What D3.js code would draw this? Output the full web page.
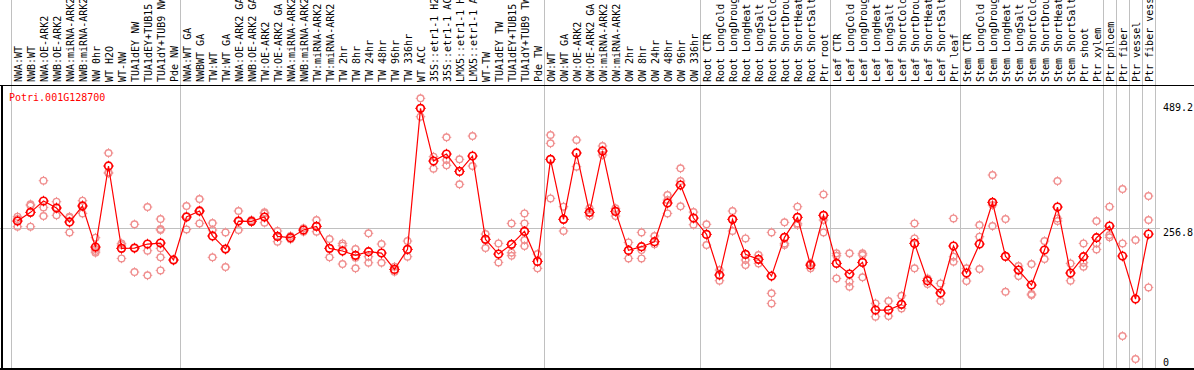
<!DOCTYPE html>
<html>
<head>
<meta charset="utf-8">
<script src="https://cdn.jsdelivr.net/npm/d3@7"></script>
<style>
  body { margin: 0; background: #fff; }
  text { font-family: "DejaVu Sans Mono", monospace; font-size: 10px; }
</style>
</head>
<body>
<div id="chart"></div>
<script>
// column labels, in drawing order
let categories = [
  "NWA:WT", "NWB:WT", "NWA:OE-ARK2", "NWB:OE-ARK2", "NWA:miRNA-ARK2", "NWB:miRNA-ARK2",
  "NW 0hr", "WT H2O", "WT-NW", "TUA1dEY NW", "TUA1dEY+TUB15", "TUA1dY+TUB9 NW", "Pde NW",
  "NWA:WT GA", "NWBWT GA", "TW:WT", "TW:WT GA", "NWA:OE-ARK2 GA", "NWB:OE-ARK2 GA",
  "TW:OE-ARK2", "TW:OE-ARK2 GA", "NWA:miRNA-ARK2", "NWB:miRNA-ARK2", "TW:miRNA-ARK2",
  "TW:miRNA-ARK2", "TW 2hr", "TW 8hr", "TW 24hr", "TW 48hr", "TW 96hr", "TW 336hr",
  "WT ACC", "35S::etr1-1 H2", "35S::etr1-1 AC", "LMX5::etr1-1 H", "LMX5::etr1-1 A",
  "WT-TW", "TUA1dEY TW", "TUA1dEY+TUB15", "TUA1dY+TUB9 TW", "Pde TW",
  "OW:WT", "OW:WT GA", "OW:OE-ARK2", "OW:OE-ARK2 GA", "OW:miRNA-ARK2", "OW:miRNA-ARK2",
  "OW 2hr", "OW 8hr", "OW 24hr", "OW 48hr", "OW 96hr", "OW 336hr",
  "Root CTR", "Root LongCold", "Root LongDroug", "Root LongHeat", "Root LongSalt",
  "Root ShortCold", "Root ShortDrou", "Root ShortHeat", "Root ShortSalt", "Ptr root",
  "Leaf CTR", "Leaf LongCold", "Leaf LongDroug", "Leaf LongHeat", "Leaf LongSalt",
  "Leaf ShortCold", "Leaf ShortDrou", "Leaf ShortHeat", "Leaf ShortSalt", "Ptr leaf",
  "Stem CTR", "Stem LongCold", "Stem LongDroug", "Stem LongHeat", "Stem LongSalt",
  "Stem ShortCold", "Stem ShortDrou", "Stem ShortHeat", "Stem ShortSalt", "Ptr shoot", "Ptr xylem",
  "Ptr phloem", "Ptr fiber", "Ptr vessel", "Ptr fiber vess"
];

// how many columns sit between two grey separators
let groupSizes = [13, 28, 12, 10, 10, 11, 1, 1, 1, 1];

// mean expression per column
let means = [
  269.6, 285.6, 306.5, 293.6, 267.8, 297.3, 221.6, 371.1, 219.2, 219.8, 227.2, 229.0, 197.7,
  277.0, 288.1, 242.0, 217.9, 269.6, 269.0, 277.0, 241.3, 238.9, 253.0, 259.8, 219.2, 214.3,
  206.3, 213.0, 210.6, 180.4, 217.3, 477.5, 380.3, 393.2, 361.2, 389.5, 235.8, 208.7, 226.6,
  250.5, 195.2,
  383.4, 272.7, 395.1, 285.6, 398.8, 287.4, 215.5, 222.3, 231.5, 302.8, 336.0, 275.1,
  245.0, 170.0, 272.7, 208.1, 198.9, 168.1, 239.5, 276.4, 188.4, 280.1,
  191.5, 171.8, 193.3, 105.4, 105.4, 115.9, 228.4, 159.5, 136.8, 223.5,
  173.7, 227.2, 304.1, 204.4, 179.2, 151.5, 216.1, 295.4, 173.7, 203.8, 238.9,
  260.4, 205.0, 125.7, 245.6
];

// single replicates per column
let replicates = [
  [277.6, 259.2, 273.3], [300.4, 297.9, 259.2], [344.0, 294.8, 278.8], [305.3, 280.1, 294.8],
  [277.6, 275.8, 248.7], [307.1, 283.7, 299.1], [238.9, 217.9, 211.2, 214.3], [395.1, 359.4, 357.6],
  [228.4, 200.7, 225.3], [263.5, 175.5, 219.8], [295.4, 214.9, 169.4],
  [273.3, 254.8, 253.0, 219.2, 202.6, 178.6], [197.7],
  [297.3, 254.2, 278.8], [310.2, 265.3, 288.1], [265.9, 253.0, 202.6], [248.7, 184.7, 217.9],
  [288.1, 253.0, 269.6], [271.5, 267.8], [285.6, 266.5, 283.7], [251.2, 231.5, 240.7],
  [242.0, 235.8], [256.1, 249.9], [271.5, 249.9], [236.4, 202.6], [228.4, 224.1, 190.3],
  [217.9, 202.0, 182.3], [246.9, 203.8, 192.7], [227.2, 192.7], [185.3, 176.1], [232.7, 203.8],
  [495.9, 462.1], [388.3, 366.2], [424.0, 382.2, 372.3], [383.4, 337.3], [426.4, 371.1],
  [245.6, 219.8], [228.4, 193.3], [265.3, 211.2, 205.6], [283.7, 265.3, 234.6, 223.5], [208.7, 182.3],
  [428.3, 412.9, 311.4], [296.1, 251.2], [419.1, 369.9], [293.0, 278.8], [408.0, 391.4],
  [293.0, 278.8], [230.2, 200.7], [248.7, 216.1, 200.7], [242.0, 226.6], [317.6, 283.7, 308.3],
  [366.8, 343.4, 296.7], [286.2, 262.8],
  [263.5, 225.3], [179.2, 159.5], [288.1, 251.2], [237.6, 197.7, 188.4], [206.9, 191.5],
  [248.7, 136.2, 117.7], [267.2, 228.4, 225.3], [296.1, 265.3, 262.2], [191.5, 182.3],
  [318.8, 271.5, 248.7],
  [210.0, 205.6, 163.8], [210.0, 157.7, 148.5], [210.0, 206.9, 165.7], [117.7, 93.1],
  [122.0, 94.3], [131.8, 108.5], [265.3, 237.6, 182.3], [163.8, 153.4], [154.6, 122.0],
  [274.5, 203.8, 194.6],
  [182.3, 158.9], [262.2, 240.7, 181.0], [354.5, 299.1, 260.4], [273.3, 139.2], [186.6, 168.1],
  [190.3, 134.9, 133.1], [232.7, 199.5], [343.4, 274.5, 269.6], [191.5, 159.5],
  [228.4, 192.7, 185.3], [269.6, 228.4, 217.3],
  [296.1, 243.8, 239.5], [328.6, 228.4, 57.4], [234.6, 15.0], [315.7, 271.5, 147.2]
];

let tickValues = [0, 256.8, 489.2];
let geneName = "Potri.001G128700";

let chart_width = 1194;
let chart_height = 370;
let col_w = 13;
let left = 11;
let header_bottom = 85;
let plot_bottom = 368;

let svg = d3
  .select("#chart")
  .append("svg")
  .attr("width", chart_width)
  .attr("height", chart_height);

// one band per column (index domain, some names repeat)
let x = d3
  .scaleBand()
  .domain(d3.range(categories.length))
  .range([left, left + col_w * categories.length]);

let y = d3.scaleLinear().domain([0, 489.2]).range([367.2, 102]);

let cx = function (i) {
  return x(i) + x.bandwidth() / 2;
};

//group separators
let bounds = [0];
groupSizes.forEach(function (n) {
  bounds.push(bounds[bounds.length - 1] + n);
});

svg
  .append("g")
  .selectAll("line")
  .data(bounds)
  .enter()
  .append("line")
  .attr("x1", (b) => left + b * col_w + 0.5)
  .attr("x2", (b) => left + b * col_w + 0.5)
  .attr("y1", 0)
  .attr("y2", plot_bottom)
  .attr("stroke", "#c0c0c0")
  .attr("stroke-width", 1)
  .attr("shape-rendering", "crispEdges");

// middle gridline
svg
  .append("line")
  .attr("x1", 0)
  .attr("x2", 1160)
  .attr("y1", Math.round(y(256.8)) + 0.5)
  .attr("y2", Math.round(y(256.8)) + 0.5)
  .attr("stroke", "#c0c0c0")
  .attr("shape-rendering", "crispEdges");

// frame
svg
  .append("line")
  .attr("x1", 0).attr("x2", chart_width)
  .attr("y1", header_bottom + 0.5).attr("y2", header_bottom + 0.5)
  .attr("stroke", "#000").attr("shape-rendering", "crispEdges");
svg
  .append("line")
  .attr("x1", 0).attr("x2", chart_width)
  .attr("y1", plot_bottom + 0.5).attr("y2", plot_bottom + 0.5)
  .attr("stroke", "#000").attr("stroke-width", 2).attr("shape-rendering", "crispEdges");
svg
  .append("line")
  .attr("x1", 1.5).attr("x2", 1.5)
  .attr("y1", header_bottom).attr("y2", plot_bottom)
  .attr("stroke", "#000").attr("stroke-width", 2).attr("shape-rendering", "crispEdges");

// column labels, rotated
svg
  .append("g")
  .selectAll("text")
  .data(categories)
  .enter()
  .append("text")
  .attr("transform", (d, i) => "translate(" + (cx(i) + 0.5) + "," + (header_bottom - 3) + ") rotate(-90)")
  .attr("dominant-baseline", "central")
  .attr("fill", "#000")
  .text((d) => d);

// gene name
svg
  .append("text")
  .attr("x", 9)
  .attr("y", 101)
  .attr("fill", "#ff0000")
  .text(geneName);

// right hand tick labels
svg
  .append("g")
  .selectAll("text")
  .data(tickValues)
  .enter()
  .append("text")
  .attr("x", 1163)
  .attr("y", (d) => Math.min(y(d) + 8.5, 365.5))
  .attr("fill", "#000")
  .text((d) => (d === 0 ? "0" : d.toFixed(1)));

// little circle with 4 ticks, like the original markers
function marker(g, px, py, r, color, sw) {
  g.append("circle")
    .attr("cx", px)
    .attr("cy", py)
    .attr("r", r)
    .attr("fill", "none")
    .attr("stroke", color)
    .attr("stroke-width", sw);
  [[0, -1], [0, 1], [-1, 0], [1, 0]].forEach(function (d) {
    g.append("line")
      .attr("x1", px + d[0] * r)
      .attr("y1", py + d[1] * r)
      .attr("x2", px + d[0] * (r + 1.5))
      .attr("y2", py + d[1] * (r + 1.5))
      .attr("stroke", color)
      .attr("stroke-width", 1);
  });
}

// replicates
let repG = svg.append("g");
replicates.forEach(function (reps, i) {
  reps.forEach(function (v) {
    marker(repG, cx(i), y(v), 3.3, "#f09090", 1.4);
  });
});

// mean line
let line = d3
  .line()
  .x((d, i) => cx(i))
  .y((d) => y(d));

svg
  .append("path")
  .datum(means)
  .attr("d", line)
  .attr("fill", "none")
  .attr("stroke", "#ff0000")
  .attr("stroke-width", 1.2);

// means
let meanG = svg.append("g");
means.forEach(function (v, i) {
  marker(meanG, cx(i), y(v), 3.8, "#ff0000", 1.7);
});
</script>
</body>
</html>
